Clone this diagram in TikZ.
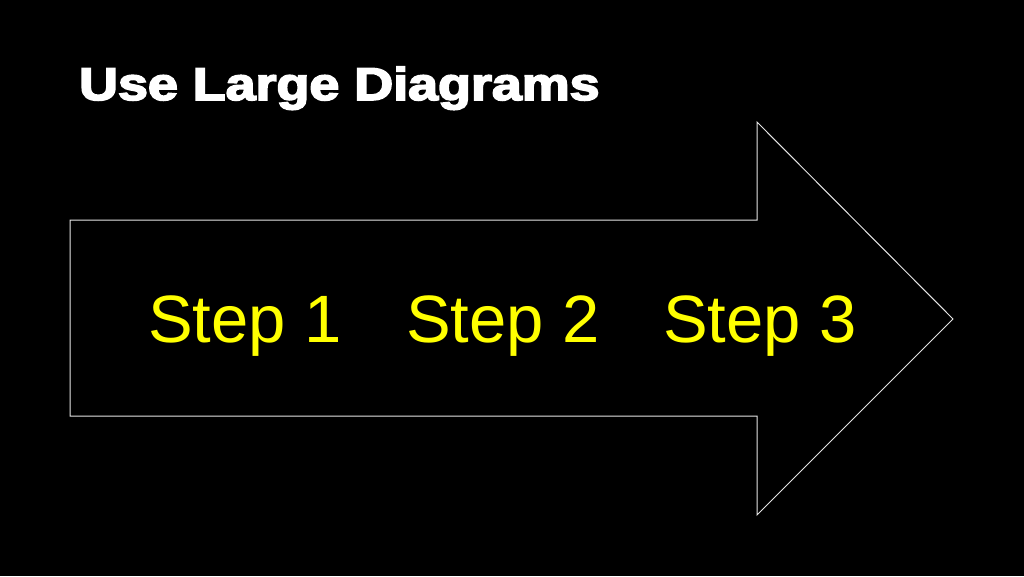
\documentclass[tikz,border=0pt]{standalone}
\usepackage{fontspec}
\setmainfont{Liberation Sans}
\newfontfamily\titlefont[FakeBold=3.5]{Liberation Sans Bold}
\tikzset{
  steptext/.style={text=stepyellow, font=\fontsize{67}{78}\selectfont, anchor=base, inner sep=0pt},
  titletext/.style={text=white, anchor=base west, inner sep=0pt},
  arrowshape/.style={draw=white!90!black, line width=1pt, line join=miter}
}
\definecolor{stepyellow}{RGB}{255,255,0}
\begin{document}
\begin{tikzpicture}[x=1pt,y=-1pt]
\useasboundingbox[fill=black] (0,0) rectangle (1024,576);
\node[titletext] (title) at (79,100) {\scalebox{1.17}[1]{\titlefont\fontsize{46}{52}\selectfont Use Large Diagrams}};
\draw[arrowshape] (70,220) -- (757,220) -- (757,122) -- (953,319) -- (757,515) -- (757,416) -- (70,416) -- cycle;
\node[steptext] (s1) at (245,342) {Step 1};
\node[steptext] (s2) at (503,342) {Step 2};
\node[steptext] (s3) at (760,342) {Step 3};
\end{tikzpicture}
\end{document}
